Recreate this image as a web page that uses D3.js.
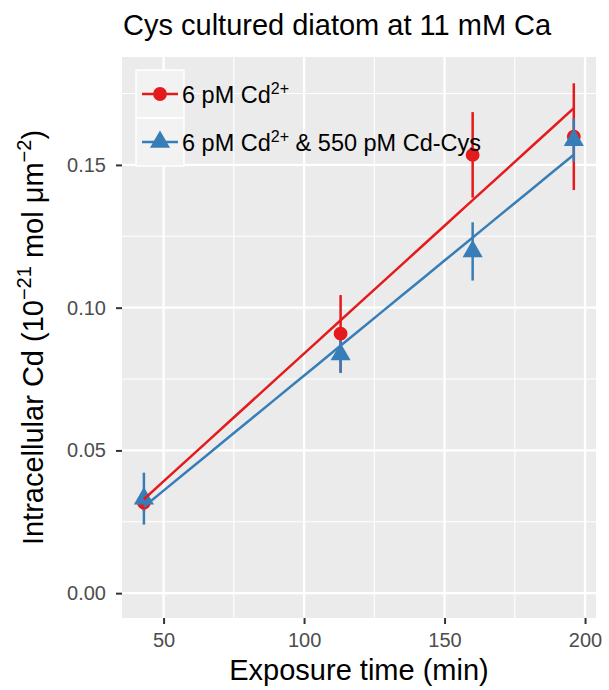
<!DOCTYPE html>
<html><head><meta charset="utf-8">
<script src="https://cdn.jsdelivr.net/npm/d3@7"></script>
<style>body{margin:0;background:#fff;} svg{display:block;font-family:"Liberation Sans",Arial,sans-serif;}</style>
</head><body>
<svg id="c" width="609" height="690"></svg>
<script>
const time = [43, 113, 160, 196];
const cdMean = [0.0317, 0.0909, 0.1535, 0.1599];
const cdErr = [0.003, 0.0135, 0.015, 0.0187];
const cysMean = [0.0331, 0.0836, 0.1197, 0.1587];
const cysErr = [0.0091, 0.0065, 0.0102, 0.0075];
const xTicks = [50, 100, 150, 200];
const yTicks = [0.00, 0.05, 0.10, 0.15];
const seriesNames = ["cd", "cys"];
const colors = {cd: "#E41A1C", cys: "#377EB8"};

const svg = d3.select("#c");
const L = 122, R = 596, T = 57, B = 618;
const x = d3.scaleLinear().domain([35.2, 203.9]).range([L, R]);
const y = d3.scaleLinear().domain([-0.0087, 0.1878]).range([B, T]);

svg.append("rect").attr("x", L).attr("y", T).attr("width", R - L).attr("height", B - T).attr("fill", "#EBEBEB");
const xMinor = [75, 125, 175], yMinor = [0.025, 0.075, 0.125, 0.175];
xMinor.forEach(v => svg.append("line").attr("x1", x(v)).attr("x2", x(v)).attr("y1", T).attr("y2", B).attr("stroke", "#fff").attr("stroke-width", 1.1));
yMinor.forEach(v => svg.append("line").attr("y1", y(v)).attr("y2", y(v)).attr("x1", L).attr("x2", R).attr("stroke", "#fff").attr("stroke-width", 1.1));
xTicks.forEach(v => svg.append("line").attr("x1", x(v)).attr("x2", x(v)).attr("y1", T).attr("y2", B).attr("stroke", "#fff").attr("stroke-width", 2.3));
yTicks.forEach(v => svg.append("line").attr("y1", y(v)).attr("y2", y(v)).attr("x1", L).attr("x2", R).attr("stroke", "#fff").attr("stroke-width", 2.3));

const xAxis = svg.append("g").attr("transform", `translate(0,${B})`)
  .call(d3.axisBottom(x).tickValues(xTicks).tickSize(6).tickPadding(5).tickFormat(d3.format("d")));
const yAxis = svg.append("g").attr("transform", `translate(${L},0)`)
  .call(d3.axisLeft(y).tickValues(yTicks).tickSize(6).tickPadding(10).tickFormat(d3.format(".2f")));
[xAxis, yAxis].forEach(a => {
  a.select(".domain").remove();
  a.selectAll(".tick line").attr("stroke", "#333").attr("stroke-width", 2);
  a.selectAll(".tick text").attr("fill", "#4D4D4D").attr("font-size", 20).attr("font-family", "Liberation Sans, Arial, sans-serif");
});
xAxis.selectAll(".tick text").attr("dy", "0.9em");

const data = {
  cd: time.map((t, i) => ({t, m: cdMean[i], e: cdErr[i]})),
  cys: time.map((t, i) => ({t, m: cysMean[i], e: cysErr[i]}))
};
function fit(xs, ys) {
  const mx = d3.mean(xs), my = d3.mean(ys);
  const b = d3.sum(xs.map((v, i) => (v - mx) * (ys[i] - my))) / d3.sum(xs.map(v => (v - mx) ** 2));
  return v => my + b * (v - mx);
}
const tri = d3.symbol().type(d3.symbolTriangle).size(175);
const circ = d3.symbol().type(d3.symbolCircle).size(150);

seriesNames.forEach(s => {
  svg.append("g").selectAll("line").data(data[s]).join("line")
    .attr("x1", d => x(d.t)).attr("x2", d => x(d.t))
    .attr("y1", d => y(d.m - d.e)).attr("y2", d => y(d.m + d.e))
    .attr("stroke", colors[s]).attr("stroke-width", 2.5);
});
seriesNames.forEach(s => {
  svg.append("g").selectAll("path").data(data[s]).join("path")
    .attr("transform", d => `translate(${x(d.t)},${y(d.m)})`)
    .attr("d", s === "cd" ? circ : tri).attr("fill", colors[s]);
});
const line = d3.line().x(d => x(d[0])).y(d => y(d[1]));
[["cd", cdMean], ["cys", cysMean]].forEach(([s, vals]) => {
  const f = fit(time, vals);
  const xs = d3.range(0, 21).map(i => time[0] + (time[3] - time[0]) * i / 20);
  svg.append("path").datum(xs.map(v => [v, f(v)])).attr("d", line)
    .attr("fill", "none").attr("stroke", colors[s]).attr("stroke-width", 2.5);
});

const legItems = [
  {s: "cd", parts: [["6 pM Cd", 0], ["2+", 1]]},
  {s: "cys", parts: [["6 pM Cd", 0], ["2+", 1], [" & 550 pM Cd-Cys", 0]]}
];
const lx = 136, ly = 70, kw = 48, kh = 48;
legItems.forEach((it, i) => {
  const ky = ly + i * kh;
  svg.append("rect").attr("x", lx).attr("y", ky).attr("width", kw).attr("height", kh)
    .attr("fill", "#F2F2F2").attr("stroke", "#fff").attr("stroke-width", 1.5);
  const cy = ky + kh / 2;
  svg.append("line").attr("x1", lx + 6).attr("x2", lx + kw - 6).attr("y1", cy).attr("y2", cy)
    .attr("stroke", colors[it.s]).attr("stroke-width", 2.5);
  svg.append("path").attr("transform", `translate(${lx + kw / 2},${cy})`)
    .attr("d", it.s === "cd" ? circ : tri).attr("fill", colors[it.s]);
  const t = svg.append("text").attr("x", lx + kw - 2).attr("y", cy + 9).attr("font-size", 23.5).attr("fill", "#000");
  let sup = false;
  it.parts.forEach(([txt, isSup]) => {
    const ts = t.append("tspan").text(txt);
    if (isSup && !sup) { ts.attr("dy", -9).attr("font-size", 16); sup = true; }
    else if (!isSup && sup) { ts.attr("dy", 9); sup = false; }
  });
});

svg.append("text").attr("x", 123).attr("y", 35).attr("font-size", 29).attr("fill", "#000")
  .text("Cys cultured diatom at 11 mM Ca");
svg.append("text").attr("x", (L + R) / 2).attr("y", 680).attr("text-anchor", "middle")
  .attr("font-size", 29).attr("fill", "#000").text("Exposure time (min)");
const yt = svg.append("text").attr("transform", `translate(43,${(T + B) / 2}) rotate(-90)`)
  .attr("text-anchor", "middle").attr("font-size", 29).attr("fill", "#000");
yt.append("tspan").text("Intracellular Cd (10");
yt.append("tspan").text("\u221221").attr("font-size", 20).attr("dy", -12);
yt.append("tspan").text(" mol \u03bcm").attr("dy", 12);
yt.append("tspan").text("\u22122").attr("font-size", 20).attr("dy", -12);
yt.append("tspan").text(")").attr("dy", 12);
</script>
</body></html>
